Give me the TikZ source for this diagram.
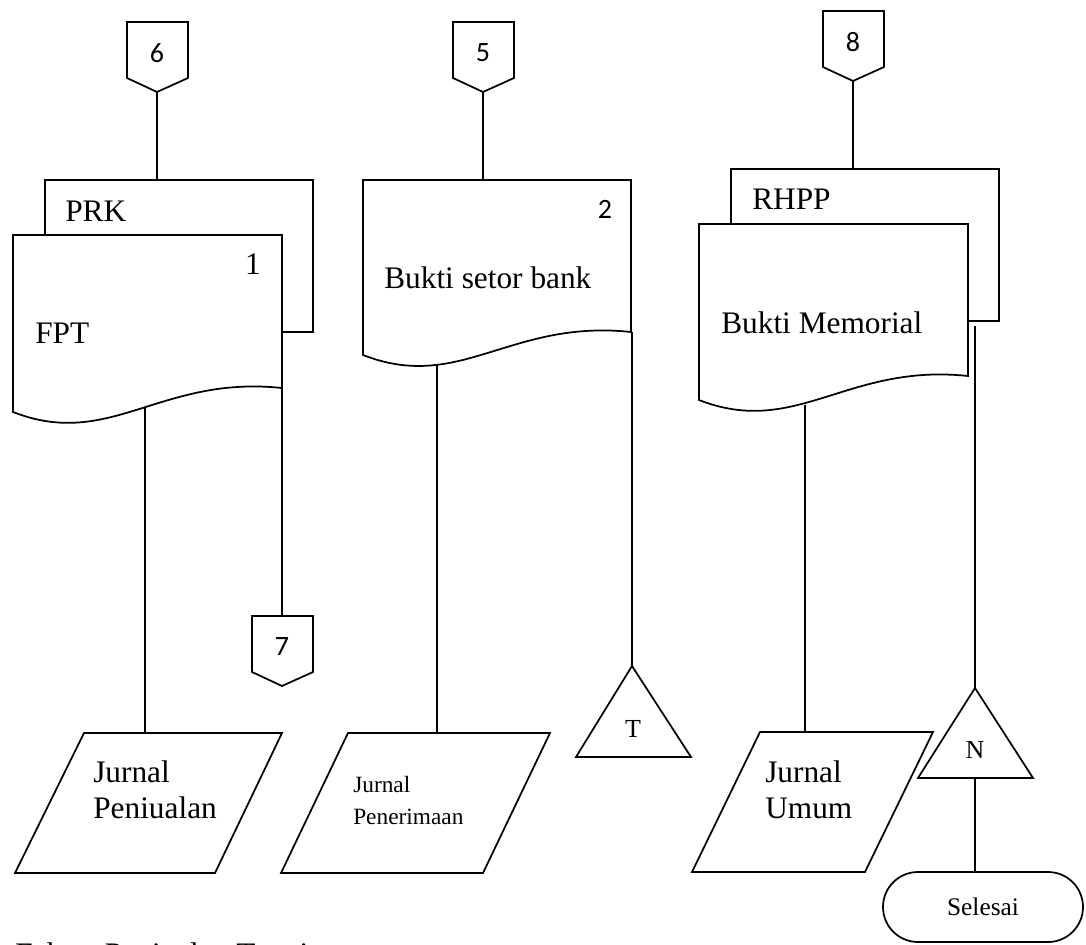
\documentclass[tikz,border=0pt]{standalone}
\usepackage{fontspec}
\setmainfont{Liberation Serif}
\newfontfamily\numfont{Carlito}
\usetikzlibrary{shapes.misc}

\begin{document}
\begin{tikzpicture}[x=0.75pt,y=-0.75pt,
    line/.style={line width=1.3pt,draw},
    paper/.style={line width=1.3pt,draw,fill=white},
    big/.style={font=\fontsize{23.5}{27}\selectfont,inner sep=0pt},
    small/.style={font=\fontsize{17.5}{24}\selectfont,inner sep=0pt},
    tri/.style={font=\fontsize{19.5}{22}\selectfont,inner sep=0pt},
    num/.style={font=\numfont\fontsize{21}{24}\selectfont,inner sep=0pt},
    terminal/.style={line width=1.3pt,draw,fill=white,rounded rectangle,minimum width=150pt,minimum height=52.5pt,inner sep=0pt,font=\fontsize{19}{22}\selectfont}]

  \useasboundingbox (0,0) rectangle (1086,945);

  % off-page connectors
  \foreach \cx/\cy/\lab/\nm in {157/22/6/csix,483/22/5/cfive,853/11/8/ceight,282/616/7/cseven}{
    \draw[paper] (\cx-30,\cy) -- (\cx+31,\cy) -- (\cx+31,\cy+56) -- (\cx,\cy+70) -- (\cx-30,\cy+56) -- cycle;
    \node[num] (\nm) at (\cx,\cy+31) {\lab};
    \coordinate (\nm-top) at (\cx,\cy);
    \coordinate (\nm-tip) at (\cx,\cy+70);
  }

  % where the lines meet the shapes
  \coordinate (prk-top) at (157,180);
  \coordinate (fpt-out) at (145,405);
  \coordinate (fpt-side) at (282,387);
  \coordinate (bsb-top) at (483,180);
  \coordinate (bsb-out) at (437,360);
  \coordinate (bsb-side) at (632,332);
  \coordinate (rhpp-top) at (853,169);
  \coordinate (bm-out) at (805,405);
  \coordinate (rhpp-side) at (975,326);
  \coordinate (jpenj-top) at (145,733);
  \coordinate (jpener-top) at (437,733);
  \coordinate (jumum-top) at (805,732);
  \coordinate (t-apex) at (632,666);
  \coordinate (n-apex) at (975,688);
  \coordinate (n-base) at (975,778);

  \node[terminal] (selesai) at (983,907) {Selesai};

  \draw[line] (csix-tip) -- (prk-top);
  \draw[line] (cfive-tip) -- (bsb-top);
  \draw[line] (ceight-tip) -- (rhpp-top);
  \draw[line] (fpt-out) -- (jpenj-top);
  \draw[line] (fpt-side) -- (cseven-top);
  \draw[line] (bsb-out) -- (jpener-top);
  \draw[line] (bsb-side) -- (t-apex);
  \draw[line] (bm-out) -- (jumum-top);
  \draw[line] (rhpp-side) -- (n-apex);
  \draw[line] (n-base) -- (n-base |- selesai.north);

  % documents
  \draw[paper] (45,180) rectangle (313,332);
  \draw[paper] (13,412) -- (13,235) -- (282,235) -- (282,388) .. controls (160,375) and (110,450) .. cycle;
  \draw[paper] (363,355) -- (363,180) -- (631,180) -- (631,332) .. controls (510,319) and (460,393) .. cycle;
  \draw[paper] (731,169) rectangle (999,321);
  \draw[paper] (699,400) -- (699,224) -- (968,224) -- (968,376) .. controls (847,363) and (796,438) .. cycle;

  % journals
  \draw[paper] (84,733) -- (282,733) -- (215,873) -- (15,873) -- cycle;
  \draw[paper] (348,733) -- (550,733) -- (483,873) -- (281,873) -- cycle;
  \draw[paper] (760,732) -- (933,732) -- (865,872) -- (692,872) -- cycle;

  % T and N
  \draw[paper] (t-apex) -- (691,757) -- (576,757) -- cycle;
  \draw[paper] (n-apex) -- (1033,778) -- (918,778) -- cycle;

  \node[big,anchor=base west] (prk) at (65,222) {PRK};
  \node[big,anchor=base] (one) at (253,275) {1};
  \node[big,anchor=base west] (fpt) at (35,344) {FPT};
  \node[num,anchor=base] (two) at (605,219) {2};
  \node[big,anchor=base west] (bsb) at (384,288) {Bukti setor bank};
  \node[big,anchor=base west] (rhpp) at (752,210) {RHPP};
  \node[big,anchor=base west] (bm) at (721,333) {Bukti Memorial};
  \node[big,anchor=west,align=left] (jpenj) at (93,790) {Jurnal\\Peniualan};
  \node[small,anchor=west,align=left] (jpener) at (353,801) {Jurnal\\Penerimaan};
  \node[big,anchor=west,align=left] (jumum) at (765,790) {Jurnal\\Umum};
  \node[tri,anchor=base] (t) at (633,737) {T};
  \node[tri,anchor=base] (n) at (975,758) {N};
  \node[big,anchor=base west] (caption) at (15,964) {Faktur Penjualan Tunai};
\end{tikzpicture}
\end{document}
